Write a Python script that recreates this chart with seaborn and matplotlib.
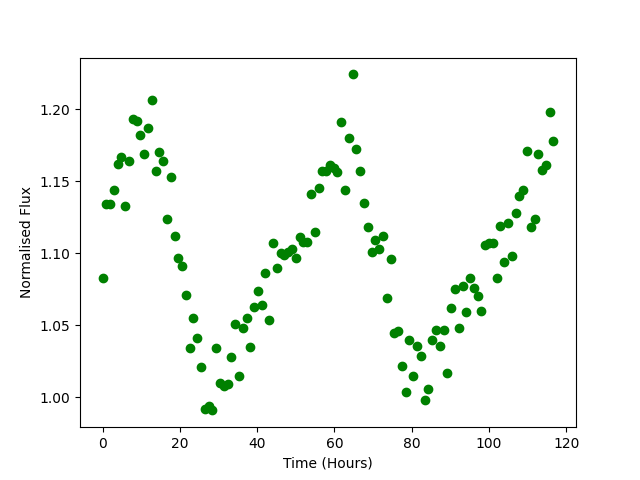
import matplotlib
matplotlib.use("Agg")
import matplotlib.pyplot as plt
import seaborn as sns
import pandas as pd

time_hours = [
    0.00, 0.98, 1.96, 2.94, 3.92, 4.90, 5.88, 6.87, 7.85, 8.83,
    9.81, 10.79, 11.77, 12.75, 13.73, 14.71, 15.69, 16.67, 17.65, 18.63,
    19.62, 20.60, 21.58, 22.56, 23.54, 24.52, 25.50, 26.48, 27.46, 28.44,
    29.42, 30.40, 31.38, 32.37, 33.35, 34.33, 35.31, 36.29, 37.27, 38.25,
    39.23, 40.21, 41.19, 42.17, 43.15, 44.13, 45.12, 46.10, 47.08, 48.06,
    49.04, 50.02, 51.00, 51.98, 52.96, 53.94, 54.92, 55.90, 56.88, 57.87,
    58.85, 59.83, 60.81, 61.79, 62.77, 63.75, 64.73, 65.71, 66.69, 67.67,
    68.65, 69.63, 70.62, 71.60, 72.58, 73.56, 74.54, 75.52, 76.50, 77.48,
    78.46, 79.44, 80.42, 81.40, 82.38, 83.37, 84.35, 85.33, 86.31, 87.29,
    88.27, 89.25, 90.23, 91.21, 92.19, 93.17, 94.15, 95.13, 96.12, 97.10,
    98.08, 99.06, 100.04, 101.02, 102.00, 102.98, 103.96, 104.94, 105.92, 106.90,
    107.88, 108.87, 109.85, 110.83, 111.81, 112.79, 113.77, 114.75, 115.73, 116.71,
]

flux = [
    1.083, 1.134, 1.134, 1.144, 1.162, 1.167, 1.133, 1.164, 1.193, 1.192,
    1.182, 1.169, 1.187, 1.206, 1.157, 1.170, 1.164, 1.124, 1.153, 1.112,
    1.097, 1.091, 1.071, 1.034, 1.055, 1.041, 1.021, 0.992, 0.994, 0.991,
    1.034, 1.010, 1.008, 1.009, 1.028, 1.051, 1.015, 1.048, 1.055, 1.035,
    1.063, 1.074, 1.064, 1.086, 1.054, 1.107, 1.090, 1.100, 1.099, 1.101,
    1.103, 1.097, 1.111, 1.108, 1.108, 1.141, 1.115, 1.145, 1.157, 1.157,
    1.161, 1.159, 1.156, 1.191, 1.144, 1.180, 1.224, 1.172, 1.157, 1.135,
    1.118, 1.101, 1.109, 1.103, 1.112, 1.069, 1.096, 1.045, 1.046, 1.022,
    1.004, 1.040, 1.015, 1.036, 1.029, 0.998, 1.006, 1.040, 1.047, 1.036,
    1.047, 1.017, 1.062, 1.075, 1.048, 1.077, 1.059, 1.083, 1.076, 1.070,
    1.060, 1.106, 1.107, 1.107, 1.083, 1.119, 1.094, 1.121, 1.098, 1.128,
    1.140, 1.144, 1.171, 1.118, 1.124, 1.169, 1.158, 1.161, 1.198, 1.178,
]

df = pd.DataFrame({"Time (Hours)": time_hours, "Normalised Flux": flux})

plt.rcParams.update(plt.rcParamsDefault)
fig, ax = plt.subplots(figsize=(6.4, 4.8), dpi=100)
sns.scatterplot(data=df, x="Time (Hours)", y="Normalised Flux", ax=ax,
                color="green", s=36, edgecolor="face", linewidth=1.0)
ax.set_xlabel("Time (Hours)")
ax.set_ylabel("Normalised Flux")
fig.savefig("out.png", dpi=100)
